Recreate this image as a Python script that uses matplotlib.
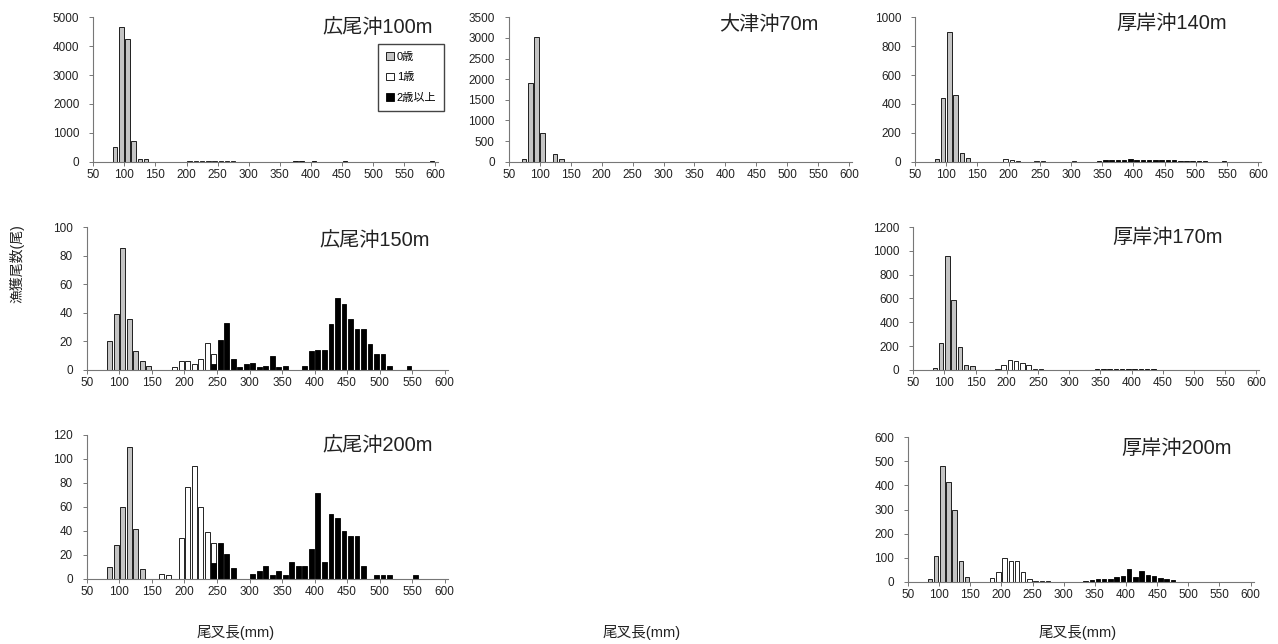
import matplotlib
matplotlib.use("Agg")
from matplotlib import pyplot as plt
from matplotlib.patches import Patch

plt.rcParams['font.family'] = ['Liberation Sans', 'Noto Sans CJK JP', 'DejaVu Sans']

# 広尾沖100m
hiroo100_len0 = [80, 90, 100, 110, 120, 130]
hiroo100_n0 = [520, 4650, 4230, 720, 100, 90]
hiroo100_len1 = [200, 210, 220, 230, 240, 250, 260, 270]
hiroo100_n1 = [10, 15, 20, 25, 20, 25, 15, 10]
hiroo100_len2 = [370, 380, 400, 450, 590]
hiroo100_n2 = [20, 15, 15, 10, 10]

# 大津沖70m
otsu70_len0 = [70, 80, 90, 100, 120, 130]
otsu70_n0 = [60, 1900, 3020, 700, 190, 60]

# 厚岸沖140m
akk140_len0 = [80, 90, 100, 110, 120, 130]
akk140_n0 = [20, 440, 900, 460, 60, 25]
akk140_len1 = [190, 200, 210, 240, 250, 300]
akk140_n1 = [20, 8, 5, 5, 5, 5]
akk140_len2 = [340, 350, 360, 370, 380, 390, 400, 410, 420, 430, 440, 450,
               460, 470, 480, 490, 500, 510, 540]
akk140_n2 = [5, 8, 10, 10, 12, 15, 12, 10, 10, 10, 10, 10, 8, 5, 5, 5, 5, 3, 3]

# 広尾沖150m
hiroo150_len0 = [80, 90, 100, 110, 120, 130, 140]
hiroo150_n0 = [20, 39, 85, 36, 13, 6, 3]
hiroo150_len1 = [180, 190, 200, 210, 220, 230, 240]
hiroo150_n1 = [2, 6, 6, 4, 8, 19, 11]
hiroo150_len2 = [240, 250, 260, 270, 280, 290, 300, 310, 320, 330, 340, 350,
                 380, 390, 400, 410, 420, 430, 440, 450, 460, 470, 480, 490,
                 500, 510, 540]
hiroo150_n2 = [4, 21, 33, 8, 2, 4, 5, 2, 3, 10, 2, 3,
               3, 13, 14, 14, 32, 50, 46, 36, 29, 29, 18, 11,
               11, 3, 3]

# 厚岸沖170m
akk170_len0 = [80, 90, 100, 110, 120, 130, 140]
akk170_n0 = [15, 230, 960, 590, 190, 45, 30]
akk170_len1 = [180, 190, 200, 210, 220, 230, 240, 250]
akk170_n1 = [10, 45, 85, 75, 55, 40, 8, 5]
akk170_len2 = [260, 270, 280, 290, 300, 310, 320, 330, 340, 350, 360, 370,
               380, 390, 400, 410, 420, 430, 440, 450, 460]
akk170_n2 = [3, 2, 2, 2, 3, 3, 3, 4, 5, 6, 7, 8, 8, 7, 8, 7, 6, 5, 4, 3, 2]

# 広尾沖200m
hiroo200_len0 = [80, 90, 100, 110, 120, 130]
hiroo200_n0 = [10, 28, 60, 110, 42, 8]
hiroo200_len1 = [160, 170, 190, 200, 210, 220, 230, 240]
hiroo200_n1 = [4, 3, 34, 77, 94, 60, 39, 30]
hiroo200_len2 = [240, 250, 260, 270, 300, 310, 320, 330, 340, 350, 360, 370,
                 380, 390, 400, 410, 420, 430, 440, 450, 460, 470, 490, 500,
                 510, 550]
hiroo200_n2 = [13, 30, 21, 9, 4, 7, 11, 3, 7, 3, 14, 11,
               11, 25, 72, 14, 54, 51, 40, 36, 36, 11, 3, 3,
               3, 3]

# 厚岸沖200m
akk200_len0 = [80, 90, 100, 110, 120, 130, 140]
akk200_n0 = [10, 105, 480, 415, 300, 85, 20]
akk200_len1 = [180, 190, 200, 210, 220, 230, 240, 250, 260, 270]
akk200_n1 = [15, 40, 100, 85, 85, 40, 10, 5, 5, 5]
akk200_len2 = [330, 340, 350, 360, 370, 380, 390, 400, 410, 420, 430, 440,
               450, 460, 470]
akk200_n2 = [5, 8, 12, 12, 10, 18, 25, 52, 20, 46, 30, 22, 15, 10, 8]

age_labels = ['0歳', '1歳', '2歳以上']
age_colors = ['#c4c4c4', 'white', 'black']

fig = plt.figure(figsize=(12.78, 6.44), dpi=100)


def panel(rect, title, tx, ty, ymax, ystep, series):
    ax = fig.add_axes(rect)
    for (lens, ns), col in zip(series, age_colors):
        if not lens:
            continue
        ax.bar([v + 5 for v in lens], ns, width=7.2, color=col,
               edgecolor='black', linewidth=0.6)
    ax.set_xlim(50, 605)
    ax.set_ylim(0, ymax)
    ax.set_xticks(range(50, 601, 50))
    ax.set_yticks(range(0, ymax + 1, ystep))
    for s in ['top', 'right']:
        ax.spines[s].set_visible(False)
    for s in ['left', 'bottom']:
        ax.spines[s].set_color('#777777')
        ax.spines[s].set_linewidth(0.8)
    ax.tick_params(labelsize=8.5, length=3, width=0.7, color='#777777',
                   labelcolor='#222222')
    ax.tick_params(axis='x', pad=2)
    ax.tick_params(axis='y', pad=7)
    ax.text(tx, ty, title, transform=ax.transAxes, ha='right', va='center',
            fontsize=14.5, color='#222222')
    ax.patch.set_alpha(0)
    return ax


ax1 = panel([0.073, 0.749, 0.270, 0.2242], '広尾沖100m', 0.985, 0.926, 5000, 1000,
            [(hiroo100_len0, hiroo100_n0), (hiroo100_len1, hiroo100_n1),
             (hiroo100_len2, hiroo100_n2)])
panel([0.398, 0.749, 0.269, 0.2242], '大津沖70m', 0.90, 0.947, 3500, 500,
      [(otsu70_len0, otsu70_n0), ([], []), ([], [])])
panel([0.716, 0.749, 0.271, 0.2242], '厚岸沖140m', 0.90, 0.954, 1000, 200,
      [(akk140_len0, akk140_n0), (akk140_len1, akk140_n1),
       (akk140_len2, akk140_n2)])
panel([0.068, 0.4255, 0.2825, 0.222], '広尾沖150m', 0.95, 0.909, 100, 20,
      [(hiroo150_len0, hiroo150_n0), (hiroo150_len1, hiroo150_n1),
       (hiroo150_len2, hiroo150_n2)])
panel([0.7145, 0.4255, 0.271, 0.222], '厚岸沖170m', 0.893, 0.93, 1200, 200,
      [(akk170_len0, akk170_n0), (akk170_len1, akk170_n1),
       (akk170_len2, akk170_n2)])
panel([0.068, 0.101, 0.2825, 0.2236], '広尾沖200m', 0.958, 0.93, 120, 20,
      [(hiroo200_len0, hiroo200_n0), (hiroo200_len1, hiroo200_n1),
       (hiroo200_len2, hiroo200_n2)])
panel([0.7105, 0.0967, 0.2705, 0.2242], '厚岸沖200m', 0.937, 0.926, 600, 100,
      [(akk200_len0, akk200_n0), (akk200_len1, akk200_n1),
       (akk200_len2, akk200_n2)])

handles = [Patch(facecolor=c, edgecolor='black', linewidth=0.6) for c in age_colors]
fig.legend(handles, age_labels, loc='upper right',
           bbox_to_anchor=(444 / 1278, 1 - 44 / 644), fontsize=8,
           handlelength=0.7, handleheight=0.7, handletextpad=0.25,
           labelspacing=0.95, borderpad=0.7, borderaxespad=0,
           fancybox=False, edgecolor='#444444', framealpha=1)

fig.text(0.013, 1 - 264 / 644, '漁獲尾数(尾)', rotation=90, ha='center',
         va='center', fontsize=10, color='#222222')
for xc in [236, 642, 1078]:
    fig.text(xc / 1278, 1 - 632 / 644, '尾叉長(mm)', ha='center', va='center',
             fontsize=10.5, color='#222222')

fig.savefig('out.png', dpi=100, facecolor='white')
